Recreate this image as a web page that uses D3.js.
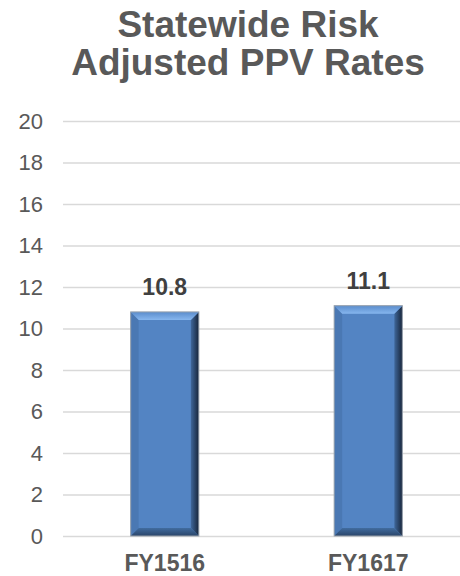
<!DOCTYPE html>
<html>
<head>
<meta charset="utf-8">
<script src="https://cdn.jsdelivr.net/npm/d3@7"></script>
<style>
  body { margin: 0; background: #fff; }
  svg { display: block; font-family: Arial, "Liberation Sans", sans-serif; }
</style>
</head>
<body>
<div class="chart"></div>
<script>
// chart data
var categories = ["FY1516", "FY1617"];
var values = [10.8, 11.1];
var yTicks = [0, 2, 4, 6, 8, 10, 12, 14, 16, 18, 20];
var titleLines = ["Statewide Risk", "Adjusted PPV Rates"];

var width = 460, height = 576;
var bevel = 8; // size of the bevelled edge on each bar

var svg = d3.select(".chart").append("svg")
    .attr("width", width)
    .attr("height", height);

var defs = svg.append("defs");

var rightGrad = defs.append("linearGradient").attr("id", "rightGrad")
    .attr("x1", 0).attr("x2", 1).attr("y1", 0).attr("y2", 0);
rightGrad.append("stop").attr("offset", "0%").attr("stop-color", "#3f679a");
rightGrad.append("stop").attr("offset", "100%").attr("stop-color", "#17253a");

var topGrad = defs.append("linearGradient").attr("id", "topGrad")
    .attr("x1", 0).attr("x2", 0).attr("y1", 0).attr("y2", 1);
topGrad.append("stop").attr("offset", "0%").attr("stop-color", "#5a8ccc");
topGrad.append("stop").attr("offset", "100%").attr("stop-color", "#86b6ee");

var bottomGrad = defs.append("linearGradient").attr("id", "bottomGrad")
    .attr("x1", 0).attr("x2", 0).attr("y1", 0).attr("y2", 1);
bottomGrad.append("stop").attr("offset", "0%").attr("stop-color", "#416c9f");
bottomGrad.append("stop").attr("offset", "100%").attr("stop-color", "#2a4569");

var y = d3.scaleLinear()
    .domain([0, 20])
    .range([536, 121]);

var x = d3.scaleBand()
    .domain(categories)
    .range([63, 470])
    .paddingInner(0.665)
    .paddingOuter(0.3325);

// title
svg.append("text")
    .attr("x", 248)
    .attr("text-anchor", "middle")
    .attr("fill", "#595959")
    .attr("font-weight", "bold")
    .attr("font-size", 37)
    .selectAll("tspan")
    .data(titleLines)
    .enter().append("tspan")
      .attr("x", 248)
      .attr("y", function(d, i) { return 37 + i * 38; })
      .text(function(d) { return d; });

// y axis: gridlines + labels
var yAxis = d3.axisLeft(y)
    .tickValues(yTicks)
    .tickSize(-(width - 63))
    .tickPadding(20);

var gy = svg.append("g")
    .attr("transform", "translate(63,0)")
    .call(yAxis);
gy.select(".domain").remove();
gy.selectAll(".tick line").attr("stroke", "#d9d9d9").attr("stroke-width", 1.5);
gy.selectAll(".tick text")
    .attr("fill", "#595959")
    .attr("font-size", 22)
    .attr("font-family", "Arial, 'Liberation Sans', sans-serif");

// x axis labels
var xAxis = d3.axisBottom(x).tickSize(0).tickPadding(19);
var gx = svg.append("g")
    .attr("transform", "translate(0," + y(0) + ")")
    .call(xAxis);
gx.select(".domain").remove();
gx.selectAll(".tick text")
    .attr("fill", "#595959")
    .attr("font-size", 23)
    .attr("font-weight", "bold")
    .attr("font-family", "Arial, 'Liberation Sans', sans-serif");

// bars with bevel
var data = categories.map(function(c, i) { return {cat: c, val: values[i]}; });

var bars = svg.selectAll(".bar")
    .data(data)
    .enter().append("g")
    .attr("class", "bar");

function pts(arr) { return arr.map(function(p) { return p.join(","); }).join(" "); }

bars.each(function(d) {
  var g = d3.select(this);
  var x0 = x(d.cat), x1 = x0 + x.bandwidth();
  var y0 = y(d.val), y1 = y(0);
  var b = bevel;
  g.append("rect")
      .attr("x", x0).attr("y", y0)
      .attr("width", x1 - x0).attr("height", y1 - y0)
      .attr("fill", "#5384c3");
  // left
  g.append("polygon")
      .attr("points", pts([[x0, y0], [x0 + b, y0 + b], [x0 + b, y1 - b], [x0, y1]]))
      .attr("fill", "#4a78b3");
  // right
  g.append("polygon")
      .attr("points", pts([[x1, y0], [x1 - b, y0 + b], [x1 - b, y1 - b], [x1, y1]]))
      .attr("fill", "url(#rightGrad)");
  // top
  g.append("polygon")
      .attr("points", pts([[x0, y0], [x1, y0], [x1 - b, y0 + b], [x0 + b, y0 + b]]))
      .attr("fill", "url(#topGrad)");
  // bottom
  g.append("polygon")
      .attr("points", pts([[x0, y1], [x1, y1], [x1 - b, y1 - b], [x0 + b, y1 - b]]))
      .attr("fill", "url(#bottomGrad)");
  g.append("rect")
      .attr("x", x0).attr("y", y0)
      .attr("width", x1 - x0).attr("height", y1 - y0)
      .attr("fill", "none")
      .attr("stroke", "#9aa3ad")
      .attr("stroke-width", 1);
});

// value labels
svg.selectAll(".value")
    .data(data)
    .enter().append("text")
    .attr("class", "value")
    .attr("x", function(d) { return x(d.cat) + x.bandwidth() / 2; })
    .attr("y", function(d) { return y(d.val) - 17; })
    .attr("text-anchor", "middle")
    .attr("fill", "#404040")
    .attr("font-weight", "bold")
    .attr("font-size", 23)
    .text(function(d) { return d.val.toFixed(1); });
</script>
</body>
</html>
